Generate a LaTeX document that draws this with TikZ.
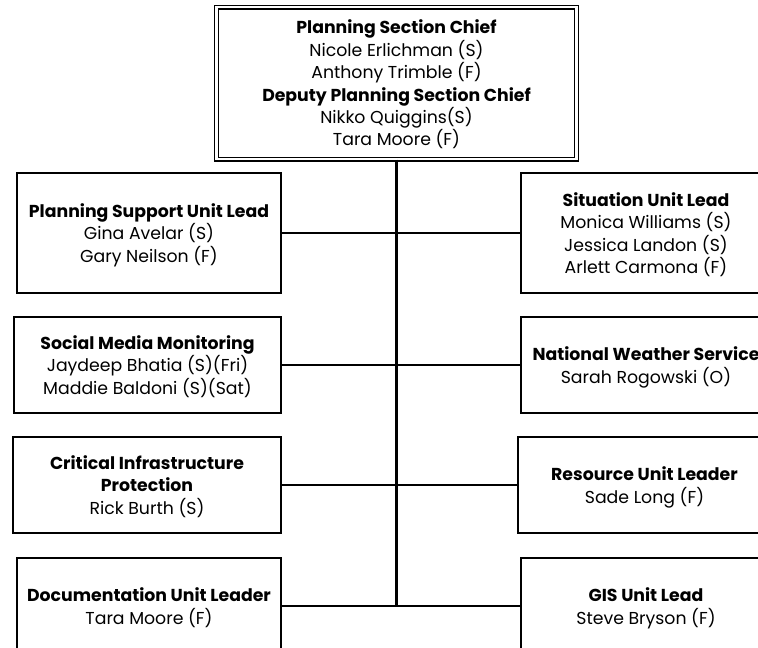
\documentclass[tikz,border=0pt]{standalone}
\usepackage{fontspec}
\setmainfont{Poppins}
\usetikzlibrary{calc}

\begin{document}
\begin{tikzpicture}[x=1pt,y=-1pt,
		unitbox/.style={draw, line width=1.4pt, align=center, inner sep=0pt, text depth=0pt,
			minimum height=96pt, font=\fontsize{17.3}{22.4}\selectfont},
		link/.style={line width=1.8pt}]
		%%%%% START %%%%%
		\useasboundingbox (0,0) rectangle (758,648);
		\clip (0,0) rectangle (758,648);
		
		\node[unitbox, double, line width=1.2pt, double distance=2.6pt,
			minimum width=360pt, minimum height=152pt] (chief) at (396.5,83)
			{\textbf{Planning Section Chief}\\Nicole Erlichman (S)\\Anthony Trimble (F)\\
			\textbf{Deputy Planning Section Chief}\\Nikko Quiggins(S)\\Tara Moore (F)};
		
		% left column
		\node[unitbox, minimum width=264pt, minimum height=120pt] (plansup) at (149,233)
			{\textbf{Planning Support Unit Lead}\\Gina Avelar (S)\\Gary Neilson (F)};
		\node[unitbox, minimum width=267pt] (social) at (147.5,365)
			{\textbf{Social Media Monitoring}\\Jaydeep Bhatia (S)(Fri)\\Maddie Baldoni (S)(Sat)};
		\node[unitbox, minimum width=268pt] (infra) at (147,485)
			{\textbf{Critical Infrastructure}\\\textbf{Protection}\\Rick Burth (S)};
		\node[unitbox, minimum width=264pt] (docu) at (149,606)
			{\textbf{Documentation Unit Leader}\\Tara Moore (F)};
		
		% right column
		\node[unitbox, minimum width=250pt, minimum height=120pt] (situ) at (646,233)
			{\textbf{Situation Unit Lead}\\Monica Williams (S)\\Jessica Landon (S)\\Arlett Carmona (F)};
		\node[unitbox, minimum width=250pt] (weather) at (646,365)
			{\textbf{National Weather Service}\\Sarah Rogowski (O)};
		\node[unitbox, minimum width=253pt] (resource) at (644.5,485)
			{\textbf{Resource Unit Leader}\\Sade Long (F)};
		\node[unitbox, minimum width=250pt] (gis) at (646,606)
			{\textbf{GIS Unit Lead}\\Steve Bryson (F)};
		
		% trunk and branches
		\coordinate (trunkend) at (chief.south |- docu.east);
		\draw[line width=2.4pt] (chief.south) -- (trunkend);
		\draw[link] (plansup.east) -- (situ.west);
		\draw[link] (social.east) -- (weather.west);
		\draw[link] (infra.east) -- (resource.west);
		\draw[link] (docu.east) -- (gis.west);
		%%%%% END %%%%%
	\end{tikzpicture}
\end{document}
